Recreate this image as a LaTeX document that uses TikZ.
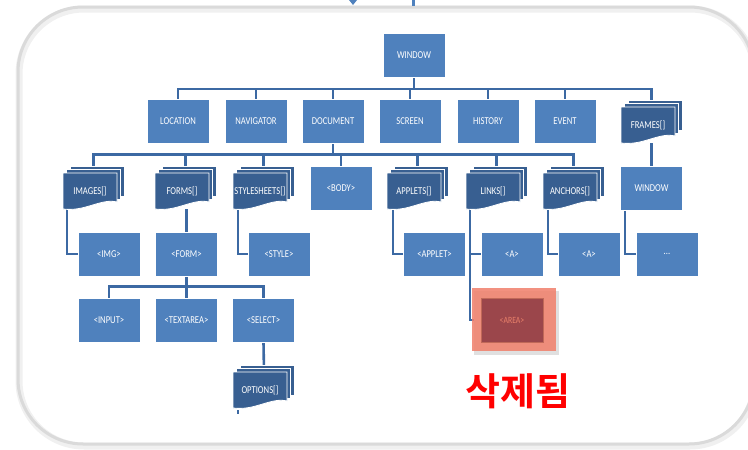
\documentclass[tikz,border=0pt]{standalone}
\usepackage{fontspec}
\usetikzlibrary{backgrounds,calc}
\newfontfamily\boxfont[FakeStretch=0.82]{Carlito}
\newfontfamily\kfont{Noto Sans CJK KR}[BoldFont={Noto Sans CJK KR Bold}]
\definecolor{boxblue}{HTML}{4F81BD}
\definecolor{mdblue}{HTML}{385F91}
\definecolor{connblue}{HTML}{3C69A3}
\definecolor{salmon}{HTML}{F0826E}
\definecolor{darkred}{HTML}{9B464B}
\definecolor{areatext}{HTML}{E8806A}
\definecolor{framegray}{RGB}{218,218,218}
\tikzset{
  box/.style={draw=white, line width=0.8pt, fill=boxblue, minimum width=62pt, minimum height=44pt, inner sep=0pt,
    text=white, font=\boxfont\fontsize{10.5}{12}\selectfont},
  mdnode/.style={minimum width=54pt, minimum height=36pt, inner sep=0pt,
    text=white, font=\boxfont\fontsize{10.5}{12}\selectfont},
  mdpage/.style={fill=mdblue, draw=white, line width=0.8pt},
  conn/.style={draw=connblue, line width=2.6pt}
}
% multi-document: name, front-left x, front-top y, text
\newcommand\mdoc[4]{%
  \path[mdpage] (#2+7,#3-7) rectangle (#2+61,#3+23);
  \path[mdpage] (#2+3.5,#3-3.5) rectangle (#2+57.5,#3+26.5);
  \path[mdpage] (#2,#3) -- (#2+54,#3) -- (#2+54,#3+29)
     .. controls (#2+38,#3+25) and (#2+22,#3+39) .. (#2,#3+36) -- cycle;
  \node[mdnode] (#1) at (#2+27,#3+18) {#4};
}
\begin{document}
\begin{tikzpicture}[x=1pt,y=-1pt]
\useasboundingbox (0,0) rectangle (748,450);
% outer frame
\draw[line width=7pt, color=black!6, rounded corners=65pt] (19,9) rectangle (755,446);
\draw[line width=3pt, color=framegray, rounded corners=65pt] (18,7) rectangle (754,444);
% top fragments
\fill[boxblue] (349,0) -- (357,0) -- (353,5) -- cycle;
\fill[boxblue] (411.5,0) rectangle (414.5,6);

% level 0
\node[box] (window) at (414,55.5) {WINDOW};
% level 1
\node[box] (location) at (178,121) {LOCATION};
\node[box] (navigator) at (256,121) {NAVIGATOR};
\node[box] (document) at (333,121) {DOCUMENT};
\node[box] (screen) at (410,121) {SCREEN};
\node[box] (history) at (488,121) {HISTORY};
\node[box] (event) at (565,121) {EVENT};
\mdoc{frames}{621}{107}{FRAMES[]}
% level 2
\mdoc{images}{63}{173}{IMAGES[]}
\mdoc{forms}{155}{173}{FORMS[]}
\mdoc{stylesheets}{233}{173}{STYLESHEETS[]}
\node[box] (body) at (341,188) {<BODY>};
\mdoc{applets}{387}{173}{APPLETS[]}
\mdoc{links}{466}{173}{LINKS[]}
\mdoc{anchors}{543}{173}{ANCHORS[]}
\node[box] (window2) at (651.5,188) {WINDOW};
% level 3
\node[box] (img) at (109,254) {<IMG>};
\node[box] (form) at (186.5,254) {<FORM>};
\node[box] (style) at (279,254) {<STYLE>};
\node[box] (applet) at (434.5,254) {<APPLET>};
\node[box] (alink) at (512,254) {<A>};
\node[box] (aanchor) at (589,254) {<A>};
\node[box] (dots) at (667,254) {...};
% level 4
\node[box] (input) at (109,320) {<INPUT>};
\node[box] (textarea) at (186.5,320) {<TEXTAREA>};
\node[box] (select) at (263.5,320) {<SELECT>};
\mdoc{options}{233}{372}{OPTIONS[]}

% deleted AREA
\fill[black!12] (474,291) rectangle (559,355);
\fill[salmon, fill opacity=0.88] (472,288) rectangle (556,351);
\node[draw=salmon!80!black, line width=0.6pt, fill=darkred, minimum width=62pt, minimum height=44pt, inner sep=0pt,
  text=areatext, font=\boxfont\fontsize{9.5}{11}\selectfont] (area) at (512,320) {<AREA>};
\node[text=red, font=\kfont\bfseries\fontsize{38}{42}\selectfont] (deleted) at (518,391) {삭제됨};

\begin{pgfonlayer}{background}
\draw[conn] (window.south) -- ++(0,11) -| (location.north);
\draw[conn] (window.south) -- ++(0,11) -| (navigator.north);
\draw[conn] (window.south) -- ++(0,11) -| (document.north);
\draw[conn] (window.south) -- ++(0,11) -| (screen.north);
\draw[conn] (window.south) -- ++(0,11) -| (history.north);
\draw[conn] (window.south) -- ++(0,11) -| (event.north);
\draw[conn] (window.south) -- ++(0,11) -| ([xshift=3.5pt]frames.north);

\draw[conn] (document.south) -- ++(0,11) -| ([xshift=3.5pt]images.north);
\draw[conn] (document.south) -- ++(0,11) -| ([xshift=3.5pt]forms.north);
\draw[conn] (document.south) -- ++(0,11) -| ([xshift=3.5pt]stylesheets.north);
\draw[conn] (document.south) -- ++(0,11) -| (body.north);
\draw[conn] (document.south) -- ++(0,11) -| ([xshift=3.5pt]applets.north);
\draw[conn] (document.south) -- ++(0,11) -| ([xshift=3.5pt]links.north);
\draw[conn] (document.south) -- ++(0,11) -| ([xshift=3.5pt]anchors.north);

\draw[conn] (window2.north) -- (window2.north|-frames.south);
\draw[conn] ([xshift=4pt]images.south west) |- (img.west);
\draw[conn] (form.north) -- (form.north|-forms.south);
\draw[conn] ([xshift=5pt]stylesheets.south west) |- (style.west);
\draw[conn] ([xshift=6pt]applets.south west) |- (applet.west);
\draw[conn] ([xshift=4pt]links.south west) |- (alink.west);
\draw[conn] ([xshift=4pt]links.south west) |- (area.west);
\draw[conn] ([xshift=5pt]anchors.south west) |- (aanchor.west);
\draw[conn] ([xshift=5pt]window2.south west) |- (dots.west);

\draw[conn] (form.south) -- ++(0,10) -| (input.north);
\draw[conn] (form.south) -- ++(0,10) -| (textarea.north);
\draw[conn] (form.south) -- ++(0,10) -| (select.north);
\draw[conn] (select.south) -- ([xshift=4pt]options.north);
\draw[conn] ([xshift=5pt,yshift=-2pt]options.south west) -- ++(0,4);
\end{pgfonlayer}
\end{tikzpicture}
\end{document}
